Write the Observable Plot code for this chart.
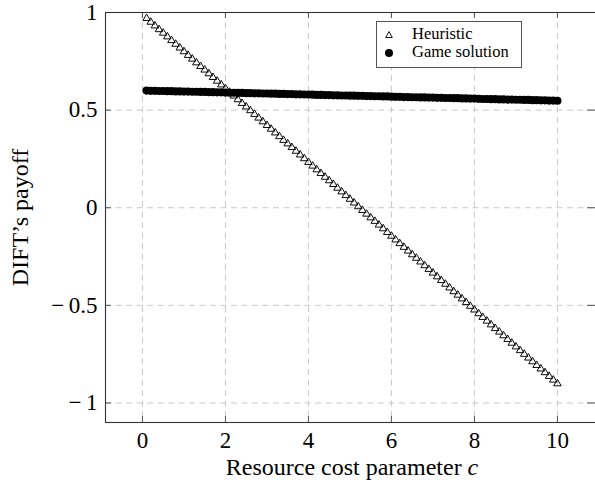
<!DOCTYPE html>
<html><head><meta charset="utf-8">
<script src="https://cdn.jsdelivr.net/npm/d3@7"></script>
<script src="https://cdn.jsdelivr.net/npm/@observablehq/plot@0.6"></script>
<style>
body{margin:0;background:#fff}
#c{position:relative;width:595px;height:487px;overflow:hidden}
#c svg text, #c svg tspan{font-family:"Liberation Serif","Times New Roman",Times,serif !important;font-variant:normal !important}
#legend{position:absolute;left:376px;top:21px;width:146px;height:47px;border:1px solid #555;background:#fff;box-sizing:border-box;font-family:"Liberation Serif","Times New Roman",Times,serif;font-size:16.5px;color:#000}
#legend .row{position:absolute;left:0;height:18px;line-height:18px;white-space:nowrap}
#legend svg{position:absolute;left:5px;top:4px}
#legend span{position:absolute;left:35px;top:0}
</style>
</head><body><div id="c"></div>
<script>
const cost = [0.1,0.2,0.3,0.4,0.5,0.6,0.7,0.8,0.9,1.0,1.1,1.2,1.3,1.4,1.5,1.6,1.7,1.8,1.9,2.0,
2.1,2.2,2.3,2.4,2.5,2.6,2.7,2.8,2.9,3.0,3.1,3.2,3.3,3.4,3.5,3.6,3.7,3.8,3.9,4.0,
4.1,4.2,4.3,4.4,4.5,4.6,4.7,4.8,4.9,5.0,5.1,5.2,5.3,5.4,5.5,5.6,5.7,5.8,5.9,6.0,
6.1,6.2,6.3,6.4,6.5,6.6,6.7,6.8,6.9,7.0,7.1,7.2,7.3,7.4,7.5,7.6,7.7,7.8,7.9,8.0,
8.1,8.2,8.3,8.4,8.5,8.6,8.7,8.8,8.9,9.0,9.1,9.2,9.3,9.4,9.5,9.6,9.7,9.8,9.9,10.0];
const heuristic = [0.970,0.951,0.932,0.913,0.895,0.876,0.857,0.838,0.819,0.800,
0.781,0.762,0.743,0.724,0.706,0.687,0.668,0.649,0.630,0.611,
0.592,0.573,0.554,0.535,0.517,0.498,0.479,0.460,0.441,0.422,
0.403,0.384,0.365,0.346,0.328,0.309,0.290,0.271,0.252,0.233,
0.214,0.195,0.176,0.157,0.139,0.120,0.101,0.082,0.063,0.044,
0.025,0.006,-0.013,-0.032,-0.051,-0.069,-0.088,-0.107,-0.126,-0.145,
-0.164,-0.183,-0.202,-0.221,-0.240,-0.258,-0.277,-0.296,-0.315,-0.334,
-0.353,-0.372,-0.391,-0.410,-0.429,-0.447,-0.466,-0.485,-0.504,-0.523,
-0.542,-0.561,-0.580,-0.599,-0.618,-0.636,-0.655,-0.674,-0.693,-0.712,
-0.731,-0.750,-0.769,-0.788,-0.807,-0.825,-0.844,-0.863,-0.882,-0.901];
const game = [0.600,0.599,0.599,0.598,0.598,0.597,0.597,0.596,0.596,0.595,
0.595,0.594,0.594,0.593,0.593,0.592,0.592,0.591,0.591,0.590,
0.589,0.589,0.588,0.588,0.587,0.587,0.586,0.586,0.585,0.585,
0.584,0.584,0.583,0.583,0.582,0.582,0.581,0.581,0.580,0.580,
0.579,0.578,0.578,0.577,0.577,0.576,0.576,0.575,0.575,0.574,
0.574,0.573,0.573,0.572,0.572,0.571,0.571,0.570,0.570,0.569,
0.568,0.568,0.567,0.567,0.566,0.566,0.565,0.565,0.564,0.564,
0.563,0.563,0.562,0.562,0.561,0.561,0.560,0.560,0.559,0.559,
0.558,0.557,0.557,0.556,0.556,0.555,0.555,0.554,0.554,0.553,
0.553,0.552,0.552,0.551,0.551,0.550,0.550,0.549,0.549,0.548];
const xTicks = [0,2,4,6,8,10];
const yTicks = [-1,-0.5,0,0.5,1];
const seriesNames = ["Heuristic","Game solution"];
const xLabel = "Resource cost parameter";
const xLabelVar = "c";
const yLabel = "DIFT\u2019s payoff";

const rowsH = cost.map((c,i)=>({c, v: heuristic[i]}));
const rowsG = cost.map((c,i)=>({c, v: game[i]}));
const font = "Liberation Serif, Times New Roman, serif";
const fmt = d => d < 0 ? "\u2212\u2009" + (-d) : String(d);
const tickColor = "#555";

const plot = Plot.plot({
  width: 595, height: 487,
  marginLeft: 105, marginRight: -3, marginTop: 12, marginBottom: 65,
  style: {fontFamily: font, fontSize: "23px", background: "white", color: "black"},
  x: {domain: [-0.89, 10.99]},
  y: {domain: [-1.1, 1]},
  marks: [
    Plot.gridX(xTicks, {stroke: "#c8c8c8", strokeOpacity: 1, strokeDasharray: "6,4.5"}),
    Plot.gridY(yTicks, {stroke: "#c8c8c8", strokeOpacity: 1, strokeDasharray: "6,4.5"}),
    Plot.ruleX(xTicks, {insetTop: 404, stroke: tickColor}),
    Plot.ruleX(xTicks, {insetBottom: 404, stroke: tickColor}),
    Plot.ruleY(yTicks, {insetRight: 487, stroke: tickColor}),
    Plot.ruleY(yTicks, {insetLeft: 482, stroke: tickColor}),
    Plot.axisX(xTicks, {tickSize: 0, tickPadding: 9, tickFormat: fmt, fontSize: 23, fontVariant: "normal",
      label: xLabel + " " + xLabelVar, labelAnchor: "center", labelArrow: "none", labelOffset: 52}),
    Plot.axisY(yTicks, {tickSize: 0, tickPadding: 8, tickFormat: fmt, fontSize: 23, fontVariant: "normal",
      label: yLabel, labelAnchor: "center", labelArrow: "none", labelOffset: 95}),
    Plot.dot(rowsG, {x: "c", y: "v", r: 4.1, fill: "black", stroke: "none"}),
    Plot.dot(rowsH, {x: "c", y: "v", r: 2.8, symbol: "triangle", fill: "none", stroke: "black", strokeWidth: 0.95}),
    Plot.frame({stroke: "#333", strokeWidth: 1.1})
  ]
});
document.getElementById("c").appendChild(plot);

// serif everywhere; italic variable in the x label
d3.select(plot).selectAll("g, text").attr("font-family", font);
d3.select(plot).selectAll("text").each(function(){
  const t = d3.select(this);
  if (t.text() === xLabel + " " + xLabelVar) {
    t.text(null).attr("font-size", 24);
    t.append("tspan").text(xLabel + " ");
    t.append("tspan").attr("font-style", "italic").text(xLabelVar);
  } else if (t.text() === yLabel) {
    t.attr("font-size", 24);
  }
});

// legend
const lg = document.createElement("div");
lg.id = "legend";
lg.innerHTML =
  `<div class="row" style="top:3px"><svg width="14" height="12"><path d="M7,2.5 L10.3,8.5 L3.7,8.5 Z" fill="none" stroke="black" stroke-width="0.9"/></svg><span>${seriesNames[0]}</span></div>` +
  `<div class="row" style="top:21px"><svg width="14" height="12"><circle cx="7" cy="6" r="4" fill="black"/></svg><span>${seriesNames[1]}</span></div>`;
document.getElementById("c").appendChild(lg);
</script>
</body></html>
